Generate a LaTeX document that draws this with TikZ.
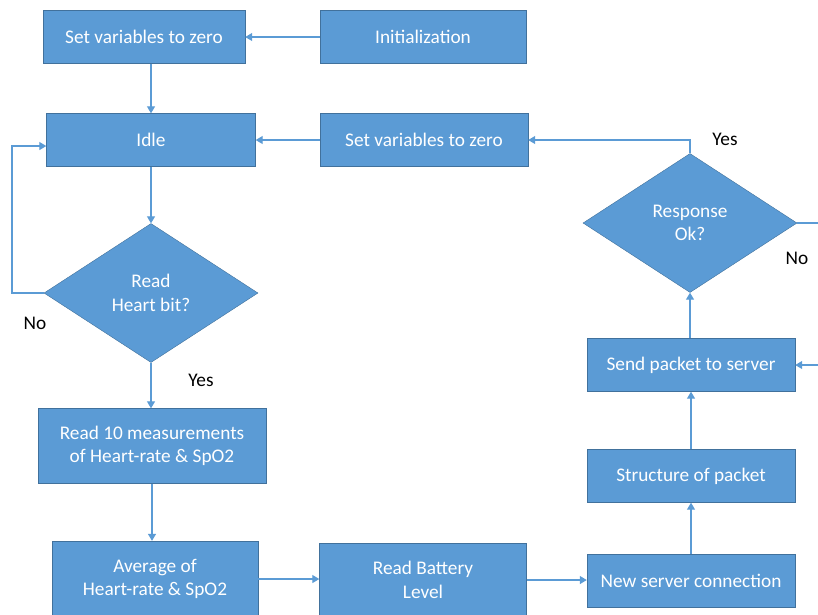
\documentclass[tikz,border=0pt]{standalone}
\usepackage{fontspec}
\setmainfont{Carlito}
\usetikzlibrary{shapes.geometric,arrows.meta}
\definecolor{boxblue}{HTML}{5B9BD5}
\definecolor{boxedge}{HTML}{41719C}
\begin{document}
\begin{tikzpicture}[x=1pt,y=-1pt,font=\fontsize{19.3}{23.5}\selectfont]
	\path[use as bounding box] (0,0) rectangle (818,614);
	\clip (0,0) rectangle (818,614);

	\begin{scope}[every node/.style={rectangle,draw=boxedge,fill=boxblue,text=white,align=center,inner sep=0pt,minimum height=53pt}]
		\node[minimum width=202pt] (zeroA) at (144,37) {Set variables to zero};
		\node[minimum width=206pt] (init) at (423,37) {Initialization};
		\node[minimum width=209pt] (idle) at (151,140) {Idle};
		\node[minimum width=208pt] (zeroB) at (424,140) {Set variables to zero};
		\node[minimum width=228pt,minimum height=75pt] (read10) at (152,446) {Read 10 measurements\\of Heart-rate \& SpO2};
		\node[minimum width=206pt,minimum height=76pt] (avg) at (155,579) {Average of\\Heart-rate \& SpO2};
		\node[minimum width=207pt,minimum height=74pt] (battery) at (423,580) {Read Battery\\Level};
		\node[minimum width=208pt] (newconn) at (691,581) {New server connection};
		\node[minimum width=208pt] (structure) at (691,476) {Structure of packet};
		\node[minimum width=208pt] (send) at (691,365) {Send packet to server};
	\end{scope}

	\begin{scope}[every node/.style={diamond,draw=boxedge,fill=boxblue,text=white,align=center,inner sep=0pt,minimum width=214pt,minimum height=139pt}]
		\node (readq) at (151,293) {Read\\Heart bit?};
		\node (respq) at (690,223) {Response\\Ok?};
	\end{scope}

	\node (yesA) at (201,380) {Yes};
	\node (noA) at (35,323) {No};
	\node (yesB) at (725,139) {Yes};
	\node (noB) at (797,258) {No};

	\coordinate (loopL) at (12,293);
	\coordinate (loopR) at (840,223);

	\begin{scope}[every edge/.style={draw=boxblue,line width=1.2pt,-{Triangle[width=8pt,length=7pt]}}]
		\path (init) edge (zeroA);
		\path (idle.north |- zeroA.south) edge (idle.north);
		\path (idle) edge (readq);
		\path (readq.south) edge (readq.south |- read10.north);
		\path (read10.south) edge (read10.south |- avg.north);
		\path (avg.east) edge (avg.east -| battery.west);
		\path (battery.east) edge (battery.east -| newconn.west);
		\path (newconn) edge (structure);
		\path (structure) edge (send);
		\path (respq.south |- send.north) edge (respq.south);
		\path (zeroB) edge (idle);
	\end{scope}

	\begin{scope}[draw=boxblue,line width=1.2pt,-{Triangle[width=8pt,length=7pt]}]
		\draw (readq.west) -- (loopL) |- ([yshift=-6pt]idle.west);
		\draw (respq.north) |- (zeroB.east);
		\draw (respq.east) -- (loopR) |- (send.east);
	\end{scope}
\end{tikzpicture}
\end{document}
